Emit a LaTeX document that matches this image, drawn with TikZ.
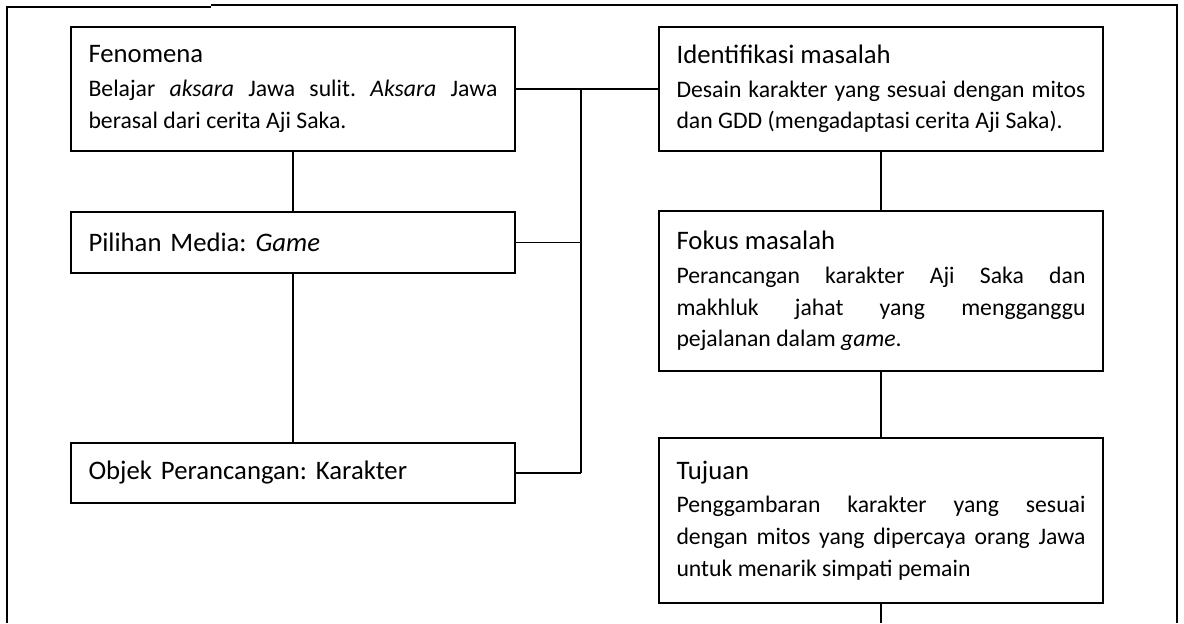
\documentclass[tikz,border=0pt]{standalone}
\usepackage{fontspec}
\setmainfont{Carlito}
\newcommand{\judul}[1]{{\fontsize{15.2}{19}\selectfont #1}\par\vspace{1pt}}

\begin{document}
\begin{tikzpicture}[x=0.02cm, y=-0.02cm,
  kotak/.style={draw, line width=1.1pt, text width=8.18cm, inner xsep=0.36cm,
    align=justify, font=\fontsize{13.5}{18.1}\selectfont\frenchspacing},
  kecil/.style={kotak, align=left, font=\fontsize{15.2}{19}\selectfont\frenchspacing},
  garis/.style={line width=0.6pt}]
  \useasboundingbox (0,0) rectangle (1184,623);
  % bingkai halaman
  \draw[line width=1.1pt] (7,623) -- (7,7) -- (211,7);
  \draw[line width=0.6pt] (211,5) -- (1177,5) -- (1177,623);
  % kolom kiri
  \node[kotak, minimum height=2.48cm] (fen) at (293,89)
    {\judul{Fenomena}Belajar \textit{aksara} Jawa sulit. \textit{Aksara} Jawa\linebreak berasal dari cerita Aji Saka.};
  \node[kecil, minimum height=1.22cm] (pil) at (293,242.5) {Pilihan Media: \textit{Game}};
  \node[kecil, minimum height=1.2cm] (obj) at (293,473) {Objek Perancangan: Karakter};
  % kolom kanan
  \node[kotak, minimum height=2.48cm] (ide) at (881,89)
    {\judul{Identifikasi masalah}Desain karakter yang sesuai dengan mitos\linebreak dan GDD (mengadaptasi cerita Aji Saka).};
  \node[kotak, minimum height=3.2cm] (fok) at (881,291)
    {\judul{Fokus masalah}Perancangan karakter Aji Saka dan\linebreak makhluk jahat yang mengganggu\linebreak pejalanan dalam \textit{game}.};
  \node[kotak, minimum height=3.3cm] (tuj) at (881,520.5)
    {\judul{Tujuan}Penggambaran karakter yang sesuai\linebreak dengan mitos yang dipercaya orang Jawa\linebreak untuk menarik simpati pemain\par\vspace*{0.24cm}};
  % garis penghubung
  \coordinate (sambung) at (581,0);
  \coordinate (bawah) at (0,623);
  \draw[garis] (fen) -- (pil);
  \draw[garis] (pil) -- (obj);
  \draw[garis] (fen.east) -- (ide.west);
  \draw[garis] (fen.east -| sambung) -- (obj.east -| sambung);
  \draw[garis] (pil.east) -- (pil.east -| sambung);
  \draw[garis] (obj.east) -- (obj.east -| sambung);
  \draw[garis] (ide) -- (fok);
  \draw[garis] (fok) -- (tuj);
  \draw[garis] (tuj.south) -- (tuj.south |- bawah);
\end{tikzpicture}
\end{document}
